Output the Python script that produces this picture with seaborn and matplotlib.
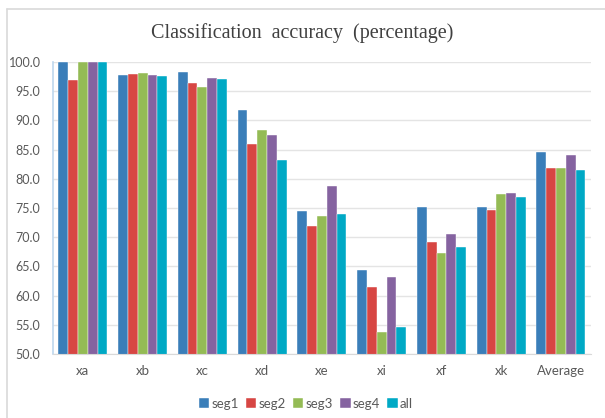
import numpy as np
import pandas as pd
import seaborn as sns
import matplotlib.pyplot as plt
from matplotlib.lines import Line2D

# data
categories = ['xa', 'xb', 'xc', 'xd', 'xe', 'xi', 'xf', 'xk', 'Average']
seg1 = [100.0, 97.7, 98.2, 91.8, 74.5, 64.4, 75.2, 75.1, 84.6]
seg2 = [96.9, 97.9, 96.3, 86.0, 71.9, 61.4, 69.2, 74.7, 81.8]
seg3 = [100.0, 98.1, 95.7, 88.4, 73.7, 53.8, 67.3, 77.4, 81.9]
seg4 = [100.0, 97.7, 97.3, 87.4, 78.8, 63.1, 70.5, 77.6, 84.1]
all_ = [100.0, 97.5, 97.0, 83.2, 73.9, 54.6, 68.4, 76.8, 81.5]
series_names = ['seg1', 'seg2', 'seg3', 'seg4', 'all']
yticks = np.arange(50, 100.1, 5)

colors = ['#3A7EB9', '#D74643', '#94BB55', '#8563A0', '#00A9C5']

rows = []
for name, vals in zip(series_names, [seg1, seg2, seg3, seg4, all_]):
    for c, v in zip(categories, vals):
        rows.append({'category': c, 'series': name, 'value': v})
df = pd.DataFrame(rows)

sns.set_style('white')
plt.rcParams['font.family'] = ['Lato', 'DejaVu Sans']

fig = plt.figure(figsize=(6.05, 4.18), dpi=100)
ax = fig.add_axes([0.0876, 0.153, 0.889, 0.699])

sns.barplot(data=df, x='category', y='value', hue='series',
            palette=colors, order=categories, hue_order=series_names,
            width=0.82, gap=0, edgecolor='white', linewidth=0.3,
            saturation=1, errorbar=None, ax=ax)

ax.set_ylim(50, 100)
ax.set_yticks(yticks)
ax.set_yticklabels([f'{t:.1f}' for t in yticks], fontsize=9, color='#595959')
ax.tick_params(axis='x', labelsize=9.5, labelcolor='#595959', length=0, pad=8)
ax.tick_params(axis='y', length=0, pad=9)
ax.set_xlabel('')
ax.set_ylabel('')
ax.grid(axis='y', color='#E4E4E4', linewidth=1)
ax.set_axisbelow(True)
for s in ['top', 'right']:
    ax.spines[s].set_visible(False)
ax.spines['left'].set_color('#BDD7EE')
ax.spines['left'].set_linewidth(1.2)
ax.spines['bottom'].set_color('#D9D9D9')

fig.text(0.5, 0.92, 'Classification  accuracy  (percentage)', ha='center',
         va='center', fontsize=14.5, color='#404040',
         family='Liberation Serif')

ax.legend(loc='center', bbox_to_anchor=(0.47, -0.17), ncol=5, frameon=False,
          fontsize=9.5, handlelength=0.8, handleheight=0.8,
          handletextpad=0.15, columnspacing=0.55, labelcolor='#595959')

# outer chart border (left and top edges visible in the reference)
fig.add_artist(Line2D([0.012, 0.012], [0, 0.979], color='#D9D9D9', lw=1.2,
                      transform=fig.transFigure))
fig.add_artist(Line2D([0.012, 1], [0.979, 0.979], color='#D9D9D9', lw=1.2,
                      transform=fig.transFigure))

fig.savefig('out.png', dpi=100)
